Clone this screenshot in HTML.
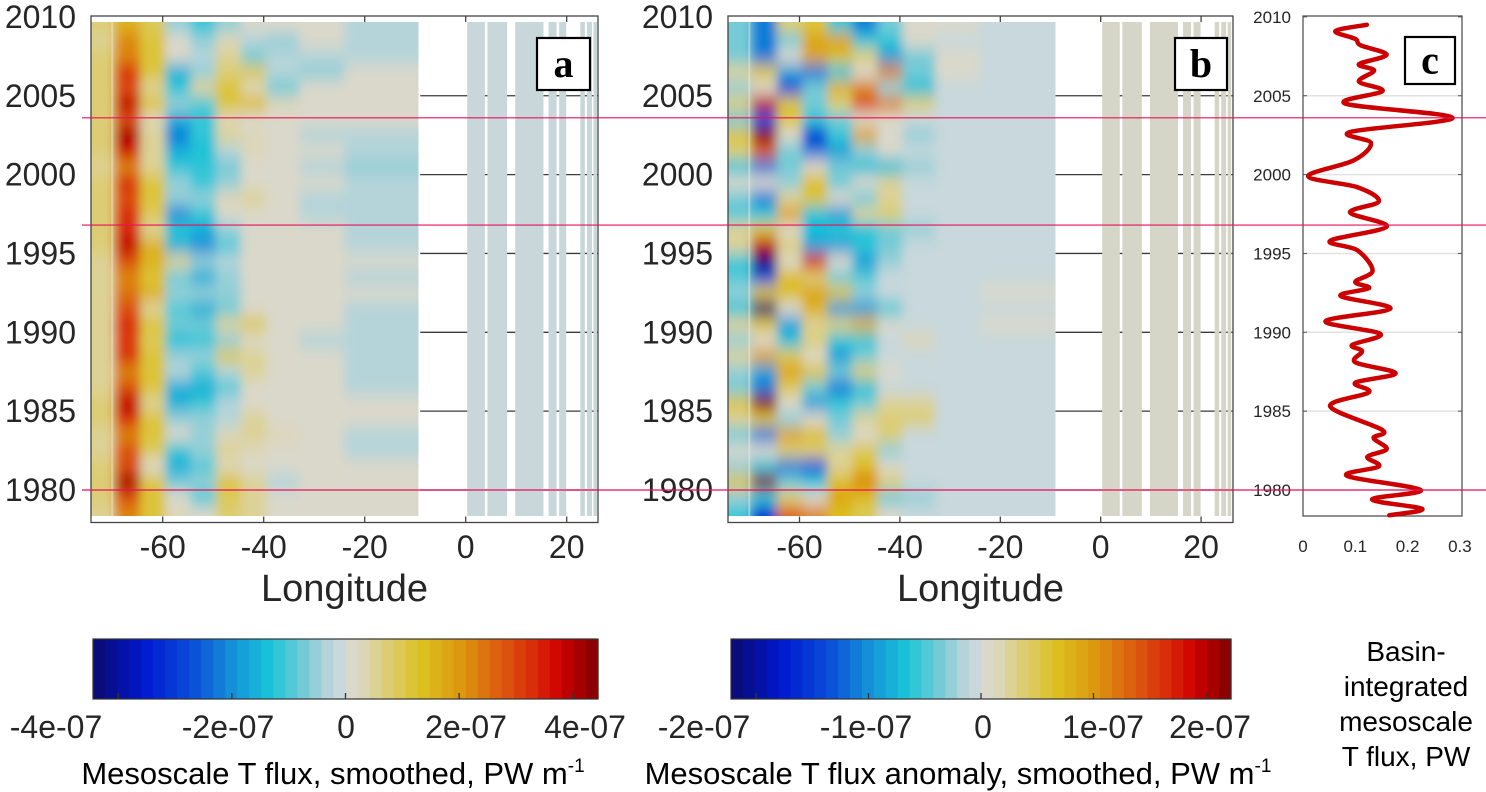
<!DOCTYPE html>
<html><head><meta charset="utf-8"><style>
html,body{margin:0;padding:0;background:#fff;}
svg{display:block;font-family:"Liberation Sans",sans-serif;}
</style></head><body>
<svg id="fig" width="1486" height="792" viewBox="0 0 1486 792" xmlns="http://www.w3.org/2000/svg">
<defs>
<filter id="blurA" filterUnits="userSpaceOnUse" x="0" y="-40" width="1300" height="620"><feGaussianBlur stdDeviation="5 8"/></filter>
<clipPath id="clipA"><rect x="91" y="22" width="327.5" height="494"/></clipPath>
<clipPath id="clipB"><rect x="728" y="22" width="327.5" height="494"/></clipPath>
</defs>
<g id="root"></g>
</svg>
<script>
// ---- data ----
const years = [2009,2008,2007,2006,2005,2004,2003,2002,2001,2000,1999,1998,1997,1996,1995,1994,1993,1992,1991,1990,1989,1988,1987,1986,1985,1984,1983,1982,1981,1980,1979,1978];
const lonEdges = [-74.5,-69.5,-64.5,-59.5,-54.5,-49.5,-44.5,-39.5,-33,-24,-9];
const fluxA = [
[0.6,1.5,0.8,-0.4,-1,-0.5,0,0,0,-0.2],[0.5,2,1,0,-0.5,0.3,-0.3,-0.5,0,-0.2],[0.6,2,1,0,-0.3,0.5,-0.6,-0.2,-0.3,-0.2],
[0.6,3,1,-1.5,-0.5,0.6,0.8,-0.3,-0.4,0],[0.6,2.5,0.5,-1,0.5,1,0.3,-0.6,0,0],[0.7,3.5,1,-0.5,-0.8,1,1.2,0.3,0,0],
[0.6,2.5,0.3,-1.5,-1,0.2,0,0,0,0],[0.7,3.8,0.5,-2,-1,0.5,0.3,0,-0.3,-0.3],[0.6,3.3,0.5,-1.5,-1.3,-0.3,0.2,0,0,-0.3],
[0.5,2,0.5,-1,-1,-0.6,0,0,-0.3,-0.4],[0.6,3,1,-0.5,-1,-0.5,0,0,0,-0.3],[0.6,2.5,1,-0.5,-0.5,0.3,0.4,0,-0.3,-0.3],
[0.6,3,0.8,-1.8,-1,0,0,0,-0.3,-0.3],[0.6,3,0.5,-1,-1.5,-0.5,0,0,0,-0.3],[0.6,3.5,1.5,-1.5,-1.8,-0.8,0,0,0,-0.3],
[0.5,2.5,1.5,0.5,-0.5,-0.3,0,0,0,0],[0.5,2,1,-0.6,-1.4,-0.5,0,0,0,-0.3],[0.5,2.2,1.5,-0.5,-0.5,-0.5,0,0,0,0],
[0.5,2.5,0.5,-0.8,-1.5,-0.6,0,0,0,-0.2],[0.5,3,1,-0.6,-0.6,0.5,0.8,0,0,-0.3],[0.5,2.8,0.8,-1.2,-1,-0.5,0,0,-0.3,-0.3],
[0.5,3,1,-0.5,-0.5,0.8,0.4,0,0,-0.3],[0.5,2,1,-0.3,-0.8,-0.3,0.5,0,0,-0.3],[0.5,2.5,1,-1.5,-1.5,-0.8,0,0,0,-0.3],
[0.6,3.5,0.5,-1.5,-1,-0.3,0,0,0,0],[0.6,3,1,-0.5,-0.5,-0.3,0.4,0,0,0],[0.5,2,1,0,-0.5,0.3,0.5,0.3,0,-0.2],
[0.5,2.5,0.8,-1,-0.5,0.5,0.3,0,0,-0.2],[0.6,2.5,0,-1.5,-0.8,0.3,0,0,0,0],[0.7,3.8,1,-0.6,-0.5,1,0.5,-0.3,0,0],
[0.6,2.5,1,0,-0.8,0.8,0.5,0,0,0],[0.5,2,1,0.3,0,0.6,0.5,0,0,0]];
const fluxB = [
[-0.3,-1,0.3,0.5,-0.5,-1,-0.3,0,0,-0.05],[-0.3,-1,-0.3,0.8,0.8,-0.5,-0.5,0,-0.05,-0.05],[-0.3,-1,0,0.8,0.6,0.3,-0.8,-0.3,0,-0.05],
[0.2,0.5,-0.8,-1,-0.5,0,1,-0.3,0,-0.05],[-0.2,0,-1.2,-0.3,0.7,1,-0.2,-0.6,-0.05,-0.05],[0.3,1.8,0.5,-0.3,0.3,1.3,1,0.3,-0.05,-0.05],
[-0.3,-1.2,0.5,-0.5,-0.3,0,0,-0.05,-0.05,-0.05],[0.5,2,0,-1.5,-0.5,0.8,0,-0.2,-0.05,-0.05],[0.3,1.2,-0.3,-1,-0.8,-0.2,0,-0.05,-0.05,-0.05],
[-0.5,-1,-0.3,0,-0.3,-0.6,-0.6,-0.2,-0.05,-0.05],[0,0,-0.2,0.6,-0.3,0,0.2,-0.05,-0.05,-0.05],[-0.3,-1,0.2,0.5,0,-0.3,0.2,-0.05,-0.05,-0.05],
[-0.4,-0.5,0.8,-0.6,-0.8,0.2,0.3,-0.05,-0.05,-0.05],[0.2,0.5,0,-0.6,-0.5,-0.6,-0.3,-0.2,-0.05,-0.05],[0.2,1.8,0.3,-0.8,-0.8,-0.5,-0.3,-0.05,-0.05,-0.05],
[-0.5,-2,0,1.5,0,-0.8,-0.2,-0.05,-0.05,-0.05],[-0.4,-1.2,0.6,0.3,-0.3,-0.4,-0.05,-0.05,-0.05,-0.05],[-0.2,0.5,0.6,0.8,0.5,-0.2,-0.05,-0.05,-0.05,0.02],
[-0.5,-2,0,0.7,-0.8,-0.8,-0.4,-0.05,-0.05,-0.05],[0.2,0.5,-0.8,0.2,0.3,0.7,0,-0.05,-0.05,0.02],[-0.2,0,-0.6,0.3,-0.5,-0.5,-0.05,0.1,-0.05,-0.05],
[0.2,0.8,0.4,0,-0.8,-0.3,-0.05,-0.05,-0.05,-0.05],[-0.2,-0.8,0.8,0.5,-0.3,0.3,0,-0.05,-0.05,-0.05],[-0.3,-1,0.4,-0.3,-1,-0.6,-0.05,-0.05,-0.05,-0.05],
[0.5,2,0,-0.8,-0.5,-0.3,0.2,0.2,-0.05,-0.05],[0.2,0.5,-0.2,0,-0.3,0.2,0.3,0.3,-0.05,-0.05],[-0.3,-1,0.8,0.6,-0.2,0,0.3,-0.05,-0.05,-0.05],
[0,0,0.3,0.3,0.2,0.4,-0.2,-0.05,-0.05,-0.05],[-0.2,-0.6,-1,-1.2,0.2,0.6,0,-0.05,-0.05,-0.05],[0.5,2,-0.3,-0.5,0.6,1,0.3,-0.05,-0.05,-0.05],
[-0.2,-0.5,0.3,0,0.8,0.6,-0.3,-0.2,-0.05,-0.05],[-0.5,-1.5,1.2,1,0.6,0.4,0,-0.05,-0.05,-0.05]];
const stripLons = [[0.3,3.8],[4.3,8.2],[9.8,15.4],[16.4,18],[18.5,19.9],[22.7,23.6],[24,25],[25.3,26]];
const yearTicks = [2010,2005,2000,1995,1990,1985,1980];
const lonTicks = [-60,-40,-20,0,20];
const markYears = [2003.6,1996.8,1980.0];
const cYears = [2009.5,2009.1,2008.6,2008.2,2007.6,2007.0,2006.6,2005.9,2005.3,2004.5,2003.6,2002.7,2002.0,2000.9,1999.9,1999.2,1998.3,1997.6,1996.7,1995.8,1995.2,1993.9,1993.2,1992.8,1992.3,1991.5,1990.7,1989.9,1989.2,1988.8,1988.1,1987.4,1986.8,1986.2,1985.3,1983.8,1983.3,1982.6,1982.1,1981.5,1980.9,1980.0,1979.4,1978.8,1978.4];
const cFlux = [0.122,0.062,0.10,0.11,0.16,0.107,0.136,0.107,0.152,0.081,0.286,0.09,0.13,0.097,0.01,0.104,0.145,0.09,0.16,0.052,0.104,0.133,0.10,0.126,0.072,0.167,0.043,0.148,0.094,0.113,0.10,0.177,0.10,0.126,0.052,0.152,0.135,0.16,0.123,0.145,0.084,0.225,0.132,0.228,0.165];
const cTicks = [0,0.1,0.2,0.3];
const cbarA = [-4,-2,0,2,4];
const cbarALabels = ["-4e-07","-2e-07","0","2e-07","4e-07"];
const cbarB = [-2,-1,0,1,2];
const cbarBLabels = ["-2e-07","-1e-07","0","1e-07","2e-07"];

// ---- helpers ----
const NS="http://www.w3.org/2000/svg";
const root=document.getElementById('root');
function mk(tag,attrs,parent){const e=document.createElementNS(NS,tag);for(const k in attrs)e.setAttribute(k,attrs[k]);(parent||root).appendChild(e);return e;}
const yOf = yr => 490 - (yr-1980)*15.77;
const xa = lon => 465.7 + 5.05*lon;
const xb = lon => 1100.7 + 5.02*lon;
const xc = v => 1303 + 523*v;
const stops=[[-1,[10,10,110]],[-0.8,[0,24,208]],[-0.6,[10,80,216]],[-0.45,[21,144,216]],[-0.3,[24,196,216]],[-0.15,[128,204,214]],[-0.05,[195,214,218]],[0.05,[220,216,200]],[0.15,[220,207,128]],[0.3,[220,192,32]],[0.45,[220,154,16]],[0.6,[220,96,16]],[0.75,[216,42,8]],[0.85,[208,0,0]],[1,[128,0,0]]];
function cmap(t){const N=42;let i=Math.floor((t+1)/2*N);i=Math.max(0,Math.min(N-1,i));
 if(i===20)return 'rgb(200,216,220)'; if(i===21)return 'rgb(218,216,202)';
 t=-1+(i+0.5)/N*2;
 for(let k=0;k<stops.length-1;k++){const a=stops[k],b=stops[k+1];if(t<=b[0]){const f=(t-a[0])/(b[0]-a[0]);const c=a[1].map((v,j)=>Math.round(v+(b[1][j]-v)*f));return `rgb(${c})`;}}return 'rgb(128,0,0)';}

function panel(id,xf,data,vmax,left,right,stripFill){
 const g=mk('g',{});  
 yearTicks.forEach(yr=>{ if(yr===2010)return; const l=mk('line',{x1:xf(-9),x2:right,y1:yOf(yr),y2:yOf(yr),stroke:'#3a3a3a','stroke-width':1.3},g);
   });
 const clip=mk('g',{'clip-path':'url(#clip'+id.toUpperCase()+')'},g);
 const hm=mk('g',{filter:'url(#blurA)'},clip);
  
 years.forEach((yr,r)=>{ const y0=yOf(yr+1+(r===0?2:0)), y1=yOf(yr-(r===years.length-1?2:0));
  data[r].forEach((v,c)=>{ const x0=xf(lonEdges[c])-(c===0?12:0), x1=xf(lonEdges[c+1])+(c===lonEdges.length-2?12:0);
   const rc=mk('rect',{x:x0,y:y0,width:x1-x0+0.5,height:y1-y0+0.5,fill:cmap(v/vmax)},hm);
    });});
 mk('line',{x1:xf(-70),x2:xf(-70),y1:22,y2:516,stroke:'rgba(240,238,228,0.45)','stroke-width':2},clip);
 stripLons.forEach(s=>{const r=mk('rect',{x:xf(s[0]),y:22,width:xf(s[1])-xf(s[0]),height:494,fill:stripFill},g);
   });
 const bx=mk('rect',{x:left,y:16,width:right-left,height:506.5,fill:'none',stroke:'#444','stroke-width':1.3},g);
  
 lonTicks.forEach(lon=>{const x=xf(lon);
  mk('line',{x1:x,x2:x,y1:16,y2:22,stroke:'#444','stroke-width':1.3},g);
  mk('line',{x1:x,x2:x,y1:516.5,y2:522.5,stroke:'#444','stroke-width':1.3},g);
  const t=mk('text',{x:x,y:558,'text-anchor':'middle','font-size':32,fill:'#262626'},g); t.textContent=String(lon);
   });
 yearTicks.forEach(yr=>{const t=mk('text',{x:left-15,y:yOf(yr)+11,'text-anchor':'end','font-size':32,fill:'#262626'},g);t.textContent=yr;
   });
 const xt=mk('text',{x:(left+right)/2,y:601,'text-anchor':'middle','font-size':38,fill:'#262626'},g); xt.textContent='Longitude';
  
 return g;
}
panel('a',xa,fluxA,4,91,598,'#c7d7da');
panel('b',xb,fluxB,2,728,1233,'#d6d6c8');

[['a',537,38,53,52],['b',1175,38,52,52],['c',1405,37,50,47]].forEach(p=>{
 const g=mk('g',{});  
 mk('rect',{x:p[1],y:p[2],width:p[3],height:p[4],fill:'#fff',stroke:'#000','stroke-width':2.2},g);
 const t=mk('text',{x:p[1]+p[3]/2,y:p[2]+p[4]/2+13,'text-anchor':'middle','font-size':40,'font-weight':'bold','font-family':'"Liberation Serif",serif'},g); t.textContent=p[0];
});

const gc=mk('g',{});  
yearTicks.forEach(yr=>{ if(yr===2010)return; const l=mk('line',{x1:1303,x2:1462,y1:yOf(yr),y2:yOf(yr),stroke:'#e2e2e2','stroke-width':1.5},gc);
  });
const cb=mk('rect',{x:1303,y:16,width:159,height:500,fill:'none',stroke:'#555','stroke-width':1.3},gc);
 
yearTicks.forEach(yr=>{const y=yOf(yr);
 mk('line',{x1:1303,x2:1307,y1:y,y2:y,stroke:'#555'},gc); mk('line',{x1:1458,x2:1462,y1:y,y2:y,stroke:'#555'},gc);
 const t=mk('text',{x:1291,y:y+6,'text-anchor':'end','font-size':17,fill:'#262626'},gc); t.textContent=yr;
  });
cTicks.forEach(v=>{const t=mk('text',{x:xc(v),y:552,'text-anchor':'middle','font-size':17,fill:'#262626'},gc); t.textContent=String(v);
  });
(function(){const P=cYears.map((yr,i)=>[xc(cFlux[i]),yOf(yr)]);let d='M'+P[0].join(',');
 for(let i=0;i<P.length-1;i++){const p0=P[Math.max(0,i-1)],p1=P[i],p2=P[i+1],p3=P[Math.min(P.length-1,i+2)];
  const c1=[p1[0]+(p2[0]-p0[0])/6,p1[1]+(p2[1]-p0[1])/6],c2=[p2[0]-(p3[0]-p1[0])/6,p2[1]-(p3[1]-p1[1])/6];
  d+=` C${c1.join(',')} ${c2.join(',')} ${p2.join(',')}`;}
 const path=mk('path',{d:d,fill:'none',stroke:'#cc0000','stroke-width':4.5,'stroke-linejoin':'round','stroke-linecap':'round'},gc);
  })();
['Basin-','integrated','mesoscale','T flux, PW'].forEach((s,i)=>{const t=mk('text',{x:1406,y:661+i*35,'text-anchor':'middle','font-size':28,fill:'#000'},gc);t.textContent=s;
  });

markYears.forEach(yr=>{const l=mk('line',{x1:82,x2:1486,y1:yOf(yr),y2:yOf(yr),stroke:'#e8105a','stroke-width':1.2});
  });

function colorbar(id,x0,x1,ticks,labels,vmax,labX,title,titleX){
 const g=mk('g',{});  
 const N=42,w=(x1-x0)/N;
 for(let i=0;i<N;i++){const r=mk('rect',{x:x0+i*w,y:639,width:w+0.6,height:60,fill:cmap(-1+(i+0.5)/N*2)},g);
   }
 mk('rect',{x:x0,y:639,width:x1-x0,height:60,fill:'none',stroke:'#333','stroke-width':1.2},g);
 ticks.forEach((v,i)=>{const x=x0+(v/vmax*0.9+1)/2*(x1-x0);
  mk('line',{x1:x,x2:x,y1:693,y2:699,stroke:'#333','stroke-width':1.3},g);
  const t=mk('text',{x:labX[i],y:738,'text-anchor':'middle','font-size':32,fill:'#262626'},g); t.textContent=labels[i];
   });
 const t=mk('text',{x:titleX,y:784,'text-anchor':'middle','font-size':31,fill:'#000'},g);
 t.innerHTML=title+'<tspan dy="-12" font-size="19">-1</tspan>';
  
}
colorbar('a',93,598,cbarA,cbarALabels,4,[56,228,346,466,585],'Mesoscale T flux, smoothed, PW m',333);
colorbar('b',731,1231,cbarB,cbarBLabels,2,[704,866,983,1103,1210],'Mesoscale T flux anomaly, smoothed, PW m',958);
</script>
</body></html>
